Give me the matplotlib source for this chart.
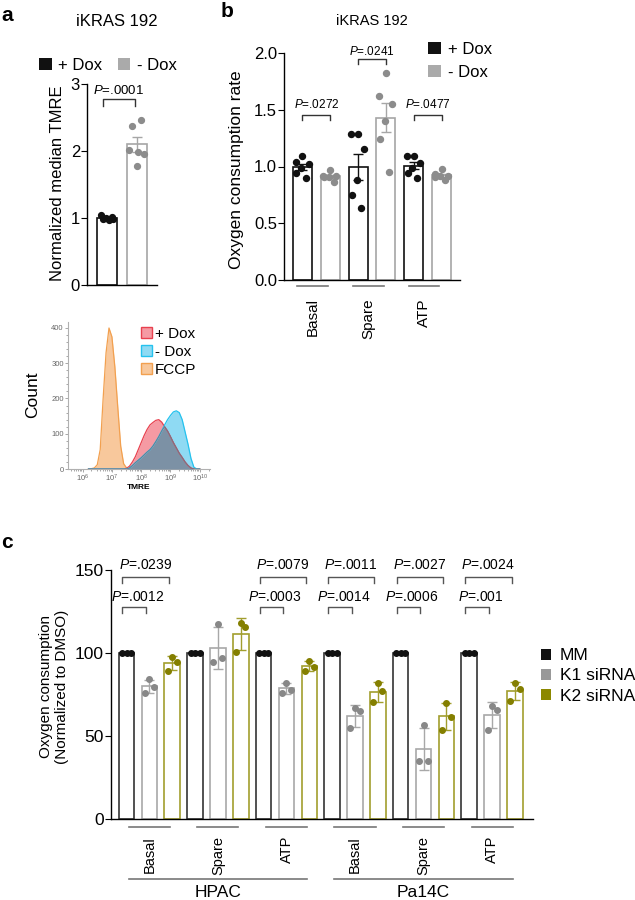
import numpy as np
import matplotlib
matplotlib.use("Agg")
import matplotlib.pyplot as plt
from matplotlib.patches import Patch
from matplotlib.ticker import MultipleLocator
from matplotlib.transforms import blended_transform_factory

plt.rcParams['font.family'] = ['Liberation Sans', 'DejaVu Sans']
plt.rcParams['mathtext.fontset'] = 'custom'
plt.rcParams['mathtext.rm'] = 'Liberation Sans'
plt.rcParams['mathtext.it'] = 'Liberation Sans:italic'
plt.rcParams['axes.linewidth'] = 1.0

# ---- panel a data ----
a_labels = ["+ Dox", "- Dox"]
a_plus = [1.04, 1.02, 1.00, 0.99, 0.98, 0.97]
a_minus = [2.47, 2.38, 2.02, 1.98, 1.96, 1.78]
a_p = ".0001"

# ---- panel b data ----
b_cats = ["Basal", "Spare", "ATP"]
b_plus = [
    [1.09, 1.04, 1.02, 0.99, 0.94, 0.90],
    [1.29, 1.29, 1.15, 0.88, 0.75, 0.63],
    [1.09, 1.09, 1.03, 0.99, 0.94, 0.90],
]
b_minus = [
    [0.97, 0.92, 0.92, 0.91, 0.91, 0.86],
    [1.82, 1.62, 1.55, 1.40, 1.24, 0.95],
    [0.98, 0.93, 0.92, 0.92, 0.91, 0.88],
]
b_p = [".0272", ".0241", ".0477"]

# ---- flow histogram (log10 TMRE vs count) ----
flow_log = [6.2, 6.3, 6.4, 6.5, 6.6, 6.7, 6.8, 6.9, 7.0, 7.1, 7.2, 7.3, 7.4,
            7.5, 7.6, 7.7, 7.8, 7.9, 8.0, 8.1, 8.2, 8.3, 8.4, 8.5, 8.6, 8.7,
            8.8, 8.9, 9.0, 9.1, 9.2, 9.3, 9.4, 9.5, 9.6, 9.7, 9.8, 9.9, 10.0]
flow_fccp = [0, 1, 3, 12, 55, 200, 330, 400, 375, 290, 175, 65, 15,
             3, 0, 0, 0, 0, 0, 0, 0, 0, 0, 0, 0, 0,
             0, 0, 0, 0, 0, 0, 0, 0, 0, 0, 0, 0, 0]
flow_plus = [0, 0, 0, 0, 0, 0, 0, 0, 0, 0, 0, 0, 0,
             2, 8, 20, 35, 55, 75, 95, 112, 125, 132, 138, 140, 133,
             120, 108, 92, 75, 60, 45, 33, 20, 10, 3, 0, 0, 0]
flow_minus = [0, 0, 0, 0, 0, 0, 0, 0, 0, 0, 0, 0, 0,
              0, 3, 10, 18, 25, 32, 40, 48, 55, 65, 78, 92, 108,
              125, 140, 152, 162, 165, 160, 140, 105, 70, 30, 5, 0, 0]
flow_labels = ["+ Dox", "- Dox", "FCCP"]

# ---- panel c data ----
c_lines = ["HPAC", "Pa14C"]
c_assays = ["Basal", "Spare", "ATP"]
c_series = ["MM", "K1 siRNA", "K2 siRNA"]
c_mm = [[100, 100, 100]] * 6
c_k1 = [[84.1, 79.7, 75.7], [117.3, 96.8, 94.4], [82.1, 77.7, 76.1],
        [66.7, 65.2, 54.6], [56.9, 34.9, 34.9], [68.1, 65.7, 53.6]]
c_k2 = [[97.8, 94.4, 89.3], [118.3, 115.5, 100.6], [95.4, 91.8, 89.2],
        [82.2, 77.1, 70.3], [70.1, 61.6, 53.6], [82.2, 78.1, 71.1]]
c_p_k1 = [".0012", None, ".0003", ".0014", ".0006", ".001"]
c_p_k2 = [".0239", None, ".0079", ".0011", ".0027", ".0024"]

W, H = 635, 900


def fx(px):
    return px / W


def fy(py):
    return 1 - py / H


def box(l, t, r, b):
    return [fx(l), fy(b), (r - l) / W, (b - t) / H]


def clean(ax):
    ax.spines['top'].set_visible(False)
    ax.spines['right'].set_visible(False)
    ax.set_xticks([])


def bracket(ax, x0, x1, yb, yt, ty, p, fs, color='#333333', tx=None):
    ax.plot([x0, x0, x1, x1], [yb, yt, yt, yb], color=color, lw=1.0, clip_on=False)
    if tx is None:
        tx = (x0 + x1) / 2
    ax.text(tx, ty, "$P$=" + p, ha='center', va='center', fontsize=fs, clip_on=False)


def bar_with_points(ax, x, pts, ec, pc, offs, w, err, ms, lw=1.2):
    pts = np.array(pts)
    m = pts.mean()
    s = pts.std(ddof=1)
    if err == 'sem':
        s = s / np.sqrt(len(pts))
    ax.bar(x, m, width=w, facecolor='white', edgecolor=ec, lw=lw, zorder=2)
    ax.errorbar(x, m, yerr=s, color=ec, capsize=3.5, lw=1.0, capthick=1.0, zorder=3)
    ax.plot(x + np.array(offs[:len(pts)]), pts, 'o', color=pc, ms=ms, zorder=4,
            clip_on=False)


fig = plt.figure(figsize=(6.35, 9), dpi=100)

# ================= panel a =================
axa = fig.add_axes(box(87, 84, 157, 285))
clean(axa)
bar_with_points(axa, 0, a_plus, '#111111', '#111111',
                [-0.2, 0.15, -0.05, 0.2, -0.15, 0.05], 0.67, 'sem', 4.2)
bar_with_points(axa, 1, a_minus, '#a6a6a6', '#8c8c8c',
                [0.12, -0.17, -0.25, 0.02, 0.25, 0.0], 0.67, 'sem', 4.2)
axa.set_xlim(-0.667, 1.667)
axa.set_ylim(0, 3)
axa.set_yticks([0, 1, 2, 3])
axa.tick_params(axis='y', labelsize=12, length=4, pad=1)
bracket(axa, -0.13, 0.93, 2.67, 2.77, 2.91, a_p, 9.5)
fig.text(fx(58), fy(183), "Normalized median TMRE", rotation=90,
         ha='center', va='center', fontsize=12)
fig.text(fx(117), fy(22), "iKRAS 192", ha='center', va='center', fontsize=12)
fig.legend([Patch(fc='#111111'), Patch(fc='#aaaaaa')], a_labels, ncol=2,
           loc='center', bbox_to_anchor=(fx(108), fy(65)), frameon=False,
           fontsize=12, handlelength=0.75, handleheight=0.75, handletextpad=0.4,
           columnspacing=0.9, borderpad=0, borderaxespad=0)
fig.text(fx(1), fy(21), "a", fontsize=15, fontweight='bold', va='baseline')

# ================= panel b =================
axb = fig.add_axes(box(284, 53, 460, 280))
clean(axb)
b_offs = [0.0, -0.25, 0.22, -0.05, -0.22, 0.12]
for i in range(3):
    bar_with_points(axb, 2 * i, b_plus[i], '#111111', '#111111', b_offs, 0.68, 'sem', 4.3)
    bar_with_points(axb, 2 * i + 1, b_minus[i], '#a6a6a6', '#8c8c8c', b_offs, 0.68, 'sem', 4.3)
axb.set_xlim(-0.665, 5.665)
axb.set_ylim(0, 2.0)
axb.set_yticks([0, 0.5, 1.0, 1.5, 2.0])
axb.set_yticklabels(["0.0", "0.5", "1.0", "1.5", "2.0"])
axb.tick_params(axis='y', labelsize=12, length=4, pad=1)
tb = blended_transform_factory(axb.transData, axb.transAxes)
for i, cat in enumerate(b_cats):
    c = 2 * i + 0.5
    axb.plot([c - 0.68, c + 0.42], [-0.027, -0.027], color='#777777', lw=1.2,
             transform=tb, clip_on=False)
    axb.text(c - 0.13, -0.08, cat, rotation=90, ha='center', va='top',
             fontsize=11, transform=tb)
bracket(axb, 0, 1, 1.41, 1.45, 1.55, b_p[0], 8.5)
bracket(axb, 2, 3, 1.90, 1.95, 2.01, b_p[1], 8.5)
bracket(axb, 4, 5, 1.41, 1.45, 1.55, b_p[2], 8.5)
fig.text(fx(237), fy(170), "Oxygen consumption rate", rotation=90,
         ha='center', va='center', fontsize=12.5)
fig.text(fx(372), fy(21), "iKRAS 192", ha='center', va='center', fontsize=10.5)
fig.legend([Patch(fc='#111111'), Patch(fc='#aaaaaa')], a_labels,
           loc='center left', bbox_to_anchor=(fx(428), fy(61)), frameon=False,
           fontsize=12, handlelength=0.75, handleheight=0.75, handletextpad=0.45,
           labelspacing=0.5, borderpad=0, borderaxespad=0)
fig.text(fx(221), fy(17), "b", fontsize=15, fontweight='bold', va='baseline')

# ================= flow histogram =================
axf = fig.add_axes(box(68, 322, 210, 469))
xs = 10 ** np.array(flow_log)
fp = np.array(flow_plus)
fm = np.array(flow_minus)
axf.fill_between(xs, flow_fccp, color='#f8c89c', lw=0, zorder=2)
axf.plot(xs, flow_fccp, color='#f2a04f', lw=0.9, zorder=3)
axf.fill_between(xs, fp, color='#f59aa3', lw=0, zorder=2)
axf.fill_between(xs, fm, color='#8fdaf3', lw=0, zorder=2)
axf.fill_between(xs, np.minimum(fp, fm), color='#7c91a5', lw=0, zorder=3)
axf.plot(xs, fp, color='#e8414f', lw=0.9, zorder=4)
axf.plot(xs, fm, color='#25c2ee', lw=0.9, zorder=4)
axf.plot(xs, np.minimum(fp, fm), color='#6a7a8c', lw=0.6, zorder=4)
axf.set_xscale('log')
axf.set_xlim(10 ** 5.5, 10 ** 10.35)
axf.set_ylim(0, 417)
axf.set_xticks([1e6, 1e7, 1e8, 1e9, 1e10])
axf.set_xticklabels(["$10^6$", "$10^7$", "$10^8$", "$10^9$", "$10^{10}$"])
axf.set_yticks([0, 100, 200, 300, 400])
axf.yaxis.set_minor_locator(MultipleLocator(20))
for s in ['top', 'right']:
    axf.spines[s].set_visible(False)
for s in ['left', 'bottom']:
    axf.spines[s].set_color('#b0b0b0')
    axf.spines[s].set_linewidth(0.8)
axf.tick_params(which='both', colors='#999999', labelcolor='#666666', labelsize=5.5,
                length=2, width=0.6, pad=1)
axf.tick_params(which='minor', length=1.2)
axf.set_xlabel("TMRE", fontsize=6, fontweight='bold', labelpad=0)
fig.text(fx(33), fy(395), "Count", rotation=90, ha='center', va='center', fontsize=12.5)
fig.legend([Patch(fc='#f59aa3', ec='#e8414f'), Patch(fc='#8fdaf3', ec='#25c2ee'),
            Patch(fc='#f8c89c', ec='#f2a04f')], flow_labels,
           loc='upper left', bbox_to_anchor=(fx(141), fy(327)), frameon=False,
           fontsize=11, handlelength=0.7, handleheight=0.7, handletextpad=0.2,
           labelspacing=0.25, borderpad=0, borderaxespad=0)

# ================= panel c =================
axc = fig.add_axes(box(111, 570, 533, 819))
clean(axc)
c_offs = [0.0, 0.2, -0.2]
mm_offs = [-0.2, 0.0, 0.2]
for g in range(6):
    x0 = 3 * g
    bar_with_points(axc, x0, c_mm[g], '#333333', '#111111', mm_offs, 0.68, 'sd', 4.0)
    bar_with_points(axc, x0 + 1, c_k1[g], '#a8a8a8', '#888888', c_offs, 0.68, 'sd', 4.0)
    bar_with_points(axc, x0 + 2, c_k2[g], '#a29e2e', '#847f00', c_offs, 0.68, 'sd', 4.0)
    if c_p_k1[g]:
        bracket(axc, x0 - 0.18, x0 + 0.85, 124.1, 127.7, 133.7, c_p_k1[g], 10,
                color='#555555', tx=x0 + 0.5)
    if c_p_k2[g]:
        bracket(axc, x0 - 0.18, x0 + 1.85, 142.2, 145.8, 153.0, c_p_k2[g], 10,
                color='#555555', tx=x0 + 0.82)
axc.set_xlim(-0.68, 17.79)
axc.set_ylim(0, 150)
axc.set_yticks([0, 50, 100, 150])
axc.tick_params(axis='y', labelsize=12.5, length=4, pad=1)
tc = blended_transform_factory(axc.transData, axc.transAxes)
for g in range(6):
    c = 3 * g + 1
    axc.plot([c - 0.9, c + 0.9], [-0.032, -0.032], color='#777777', lw=1.2,
             transform=tc, clip_on=False)
    axc.text(c, -0.068, c_assays[g % 3], rotation=90, ha='center', va='top',
             fontsize=10.5, transform=tc)
for k, name in enumerate(c_lines):
    c = 9 * k + 4
    axc.plot([c - 3.9, c + 3.9], [-0.241, -0.241], color='#777777', lw=1.2,
             transform=tc, clip_on=False)
    axc.text(c, -0.297, name, ha='center', va='center', fontsize=12.5, transform=tc)
fig.text(fx(54), fy(687), "Oxygen consumption\n(Normalized to DMSO)", rotation=90,
         ha='center', va='center', fontsize=11, linespacing=1.25)
fig.legend([Patch(fc='#111111'), Patch(fc='#999999'), Patch(fc='#8c8800')], c_series,
           loc='center left', bbox_to_anchor=(fx(541), fy(676)), frameon=False,
           fontsize=12.5, handlelength=0.6, handleheight=0.6, handletextpad=0.5,
           labelspacing=0.3, borderpad=0, borderaxespad=0)
fig.text(fx(1), fy(548), "c", fontsize=15, fontweight='bold', va='baseline')

fig.savefig("out.png", dpi=100)
